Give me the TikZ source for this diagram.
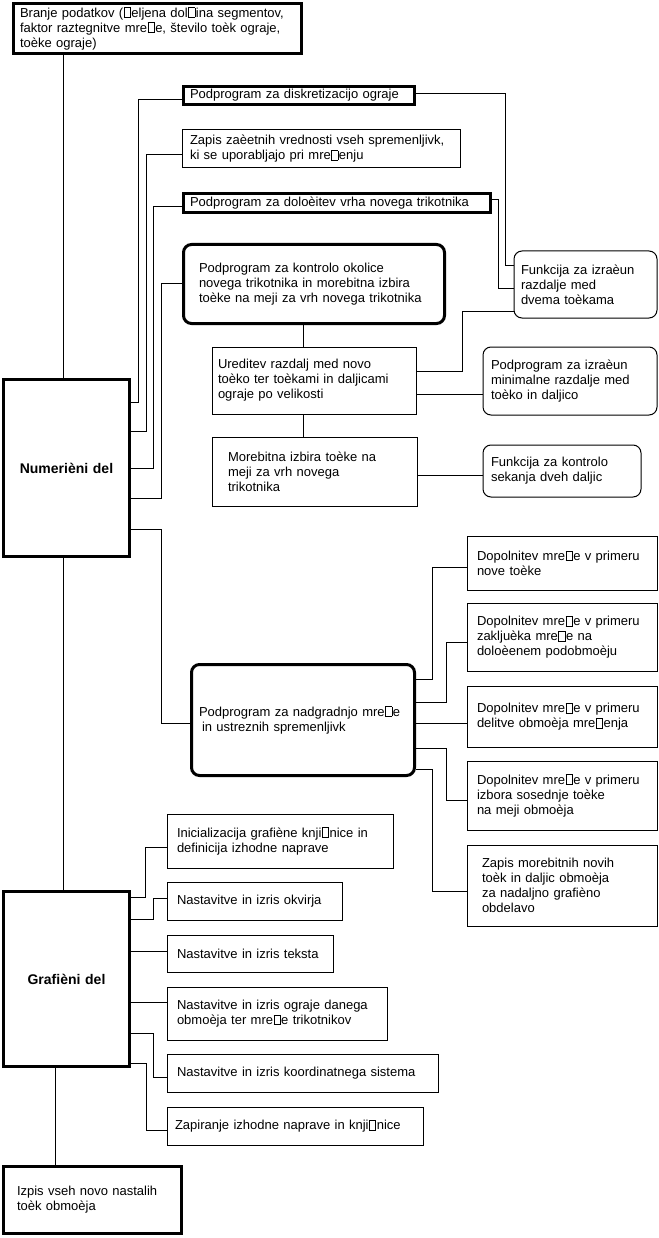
\documentclass[tikz,border=0pt]{standalone}
\usepackage{fontspec}
\setmainfont{Liberation Sans}
\usepackage{tikz}
\setlength{\fboxsep}{0pt}
\setlength{\fboxrule}{0.8pt}
\newcommand{\boxFont}{\fontsize{13}{15}\selectfont}
\newcommand{\noGlyph}{\kern0.5pt\fbox{\rule{0pt}{9pt}\kern5.5pt}\kern0.5pt}
\tikzstyle{plainBox}=[shape = rectangle, draw, line width = 1pt, inner xsep = 0pt, inner ysep = 1pt, align = left, font = \boxFont]
\tikzstyle{heavyBox}=[plainBox, line width = 3pt]
\tikzstyle{roundBox}=[plainBox, rounded corners = 8pt]
\tikzstyle{heavyRound}=[heavyBox, rounded corners = 8pt]
\tikzstyle{mainBox}=[heavyBox, align = center, font = \fontsize{14}{16}\selectfont\bfseries]
\tikzstyle{link}=[line width = 1pt]
\tikzset{textIndent/.style = {execute at begin node = {\leftskip=#1\relax}}}

\begin{document}
\begin{tikzpicture}[x = 1pt, y = -1pt]
\useasboundingbox (0,0) rectangle (658,1238);
\node[heavyBox, text width = 288pt, minimum height = 50pt, textIndent = 6.5pt] (branje) at (157.5,28.5) {Branje podatkov (\noGlyph eljena dol\noGlyph ina segmentov,\\ faktor raztegnitve mre\noGlyph e, število toèk ograje,\\ toèke ograje)};
\node[heavyBox, text width = 231pt, minimum height = 18pt, textIndent = 6.5pt] (diskret) at (299,95.5) {Podprogram za diskretizacijo ograje};
\node[plainBox, text width = 278pt, minimum height = 38pt, textIndent = 8pt] (zacetne) at (321,149) {Zapis zaèetnih vrednosti vseh spremenljivk,\\ ki se uporabljajo pri mre\noGlyph enju};
\node[heavyBox, text width = 307pt, minimum height = 19pt, textIndent = 6.5pt] (dolocitev) at (337,203) {Podprogram za doloèitev vrha novega trikotnika};
\node[heavyRound, text width = 261pt, minimum height = 79pt, textIndent = 15.5pt] (kontrola) at (314,284) {Podprogram za kontrolo okolice\\ novega trikotnika in morebitna izbira\\ toèke na meji za vrh novega trikotnika};
\node[roundBox, text width = 143pt, minimum height = 67pt, textIndent = 7pt] (razdalja) at (585.5,284.5) {Funkcija za izraèun\\ razdalje med\\ dvema toèkama};
\node[plainBox, text width = 204pt, minimum height = 67pt, textIndent = 6pt] (ureditev) at (314,380.5) {Ureditev razdalj med novo\\ toèko ter toèkami in daljicami\\ ograje po velikosti};
\node[roundBox, text width = 174pt, minimum height = 68pt, textIndent = 8pt] (minimalna) at (570,381) {Podprogram za izraèun\\ minimalne razdalje med\\ toèko in daljico};
\node[plainBox, text width = 205pt, minimum height = 69pt, textIndent = 16pt] (izbira) at (314.5,471.5) {Morebitna izbira toèke na\\ meji za vrh novega\\ trikotnika};
\node[roundBox, text width = 158pt, minimum height = 52pt, textIndent = 8pt] (sekanje) at (562,471) {Funkcija za kontrolo\\ sekanja dveh daljic};
\node[mainBox, text width = 126pt, minimum height = 177pt] (numericni) at (66.5,468) {Numerièni del};
\node[plainBox, text width = 190pt, minimum height = 54pt, textIndent = 10pt] (novaTocka) at (562,563) {Dopolnitev mre\noGlyph e v primeru\\ nove toèke};
\node[plainBox, text width = 190pt, minimum height = 68pt, textIndent = 10pt] (zakljucek) at (562,637) {Dopolnitev mre\noGlyph e v primeru\\ zakljuèka mre\noGlyph e na\\ doloèenem podobmoèju};
\node[heavyRound, text width = 223pt, minimum height = 111pt, textIndent = 7.5pt] (nadgradnja) at (303,720) {Podprogram za nadgradnjo mre\noGlyph e\\ \hspace*{3pt}in ustreznih spremenljivk};
\node[plainBox, text width = 190pt, minimum height = 61pt, textIndent = 10pt] (delitev) at (562,716.5) {Dopolnitev mre\noGlyph e v primeru\\ delitve obmoèja mre\noGlyph enja};
\node[plainBox, text width = 190pt, minimum height = 69pt, textIndent = 10pt] (sosednja) at (562,795.5) {Dopolnitev mre\noGlyph e v primeru\\ izbora sosednje toèke\\ na meji obmoèja};
\node[plainBox, text width = 190pt, minimum height = 81pt, textIndent = 15pt] (zapisNovih) at (562,885.5) {Zapis morebitnih novih\\ toèk in daljic obmoèja\\ za nadaljno grafièno\\ obdelavo};
\node[plainBox, text width = 226pt, minimum height = 54pt, textIndent = 10pt] (inicializacija) at (280,841) {Inicializacija grafiène knji\noGlyph nice in\\ definicija izhodne naprave};
\node[mainBox, text width = 126pt, minimum height = 175pt] (graficni) at (66.5,979) {Grafièni del};
\node[plainBox, text width = 175pt, minimum height = 38pt, textIndent = 10pt] (okvir) at (254.5,901) {Nastavitve in izris okvirja};
\node[plainBox, text width = 166pt, minimum height = 37pt, textIndent = 10pt] (tekst) at (250,953.5) {Nastavitve in izris teksta};
\node[plainBox, text width = 220pt, minimum height = 53pt, textIndent = 10pt] (ograja) at (277,1013.5) {Nastavitve in izris ograje danega\\ obmoèja ter mre\noGlyph e trikotnikov};
\node[plainBox, text width = 271pt, minimum height = 38pt, textIndent = 10pt] (koordinate) at (302.5,1073) {Nastavitve in izris koordinatnega sistema};
\node[plainBox, text width = 256pt, minimum height = 38pt, textIndent = 8pt] (zapiranje) at (295,1126) {Zapiranje izhodne naprave in knji\noGlyph nice};
\node[heavyBox, text width = 178pt, minimum height = 67pt, textIndent = 13.5pt] (izpis) at (92.5,1200) {Izpis vseh novo nastalih\\ toèk obmoèja};
\draw[link] (branje.south -| 63,0) -- (numericni.north -| 63,0);
\draw[link] (numericni.east |- 0,402) -| (138,100) -- (diskret.west |- 0,100);
\draw[link] (numericni.east |- 0,431) -| (146,155) -- (zacetne.west |- 0,155);
\draw[link] (numericni.east |- 0,468) -| (153,207) -- (dolocitev.west |- 0,207);
\draw[link] (numericni.east |- 0,498) -| (161,284) -- (kontrola.west |- 0,284);
\draw[link] (numericni.east |- 0,529) -| (161,723) -- (nadgradnja.west |- 0,723);
\draw[link] (numericni.south -| 63,0) -- (graficni.north -| 63,0);
\draw[link] (graficni.south -| 55,0) -- (izpis.north -| 55,0);
\draw[link] (diskret.east |- 0,94) -| (505,266) -- (razdalja.west |- 0,266);
\draw[link] (dolocitev.east |- 0,200) -| (498,289) -- (razdalja.west |- 0,289);
\draw[link] (razdalja.west |- 0,311) -| (462,371) -- (ureditev.east |- 0,371);
\draw[link] (kontrola.south -| 303,0) -- (ureditev.north -| 303,0);
\draw[link] (ureditev.south -| 303,0) -- (izbira.north -| 303,0);
\draw[link] (ureditev.east |- 0,394) -- (minimalna.west |- 0,394);
\draw[link] (izbira.east |- 0,475) -- (sekanje.west |- 0,475);
\draw[link] (nadgradnja.east |- 0,679) -| (432,567) -- (novaTocka.west |- 0,567);
\draw[link] (nadgradnja.east |- 0,702) -| (446,642) -- (zakljucek.west |- 0,642);
\draw[link] (nadgradnja.east |- 0,723) -- (delitev.west |- 0,723);
\draw[link] (nadgradnja.east |- 0,748) -| (446,800) -- (sosednja.west |- 0,800);
\draw[link] (nadgradnja.east |- 0,769) -| (432,891) -- (zapisNovih.west |- 0,891);
\draw[link] (graficni.east |- 0,897) -| (145,847) -- (inicializacija.west |- 0,847);
\draw[link] (graficni.east |- 0,919) -| (153,898) -- (okvir.west |- 0,898);
\draw[link] (graficni.east |- 0,951) -- (tekst.west |- 0,951);
\draw[link] (graficni.east |- 0,1002) -- (ograja.west |- 0,1002);
\draw[link] (graficni.east |- 0,1033) -| (153,1077) -- (koordinate.west |- 0,1077);
\draw[link] (graficni.east |- 0,1063) -| (146,1130) -- (zapiranje.west |- 0,1130);
\end{tikzpicture}
\end{document}
